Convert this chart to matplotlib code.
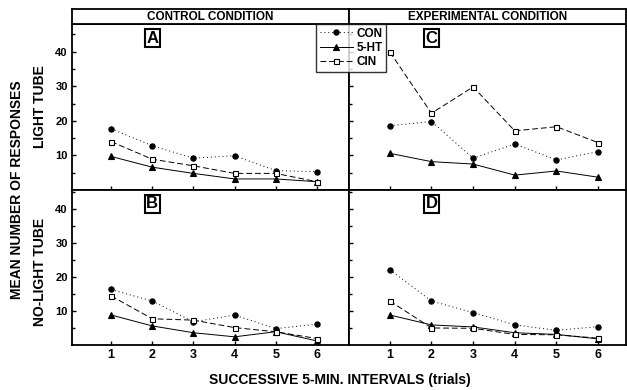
import matplotlib
matplotlib.use("Agg")
import matplotlib.pyplot as plt
from matplotlib.lines import Line2D

plt.rcParams["font.family"] = ["Liberation Sans", "DejaVu Sans"]
plt.rcParams["font.weight"] = "bold"

trials = [1, 2, 3, 4, 5, 6]
series = ["CON", "5-HT", "CIN"]

# panel A: control, light tube
a_con = [17.7, 12.8, 9.2, 9.9, 5.6, 5.3]
a_5ht = [9.7, 6.6, 4.8, 3.2, 3.2, 2.4]
a_cin = [14.0, 8.9, 7.0, 4.8, 4.8, 2.4]
# panel B: control, no-light tube
b_con = [16.3, 12.9, 6.8, 8.8, 4.8, 6.1]
b_5ht = [8.8, 5.6, 3.6, 2.4, 3.9, 1.2]
b_cin = [14.4, 7.7, 7.3, 5.1, 3.9, 1.9]
# panel C: experimental, light tube
c_con = [18.6, 19.8, 9.2, 13.3, 8.7, 11.1]
c_5ht = [10.6, 8.2, 7.5, 4.3, 5.5, 3.7]
c_cin = [39.9, 22.2, 29.8, 17.1, 18.3, 13.7]
# panel D: experimental, no-light tube
d_con = [22.1, 12.9, 9.5, 5.9, 4.3, 5.4]
d_5ht = [8.8, 5.9, 5.3, 3.6, 3.1, 1.8]
d_cin = [12.9, 5.0, 4.9, 3.1, 3.0, 2.0]

styles = {
    "CON": dict(ls=(0, (1, 3)), marker="o", mfc="black", ms=3.8),
    "5-HT": dict(ls="-", marker="^", mfc="black", ms=3.8),
    "CIN": dict(ls=(0, (6, 3)), marker="s", mfc="white", ms=3.6),
}

W, H = 627, 390
fig = plt.figure(figsize=(W / 100, H / 100), dpi=100)


def px(x0, y0, x1, y1):
    return [x0 / W, 1 - y1 / H, (x1 - x0) / W, (y1 - y0) / H]


def panel(rect, data, xlim, ylim, letter, left_labels, show_xlabels):
    ax = fig.add_axes(rect)
    for name, vals in zip(series, data):
        ax.plot(trials, vals, color="black", lw=0.7, mec="black", mew=0.8,
                **styles[name])
    ax.set_xlim(*xlim)
    ax.set_ylim(*ylim)
    ax.set_xticks(trials)
    ax.set_yticks([10, 20, 30, 40])
    ax.set_yticks([5, 15, 25, 35, 45], minor=True)
    ax.tick_params(direction="in", length=3, width=1, labelsize=8, pad=3)
    ax.tick_params(which="minor", direction="in", length=2, width=1)
    ax.tick_params(axis="x", labelbottom=show_xlabels, labelsize=9)
    ax.tick_params(axis="y", labelleft=left_labels)
    for s in ax.spines.values():
        s.set_linewidth(1.3)
    ax.text(2, 0.96, letter, transform=ax.get_xaxis_transform(), ha="center",
            va="top", fontsize=12,
            bbox=dict(boxstyle="square,pad=0.1", fc="white", ec="black", lw=1.5))
    return ax


xl_left = (0.05, 6.78)
xl_right = (0.02, 6.67)

panel(px(72, 24, 349, 190), [a_con, a_5ht, a_cin], xl_left, (0, 48), "A", True, False)
panel(px(72, 190, 349, 345), [b_con, b_5ht, b_cin], xl_left, (0, 45.5), "B", True, True)
panel(px(349, 24, 626, 190), [c_con, c_5ht, c_cin], xl_right, (0, 48), "C", False, False)
panel(px(349, 190, 626, 345), [d_con, d_5ht, d_cin], xl_right, (0, 45.5), "D", False, True)

for rect, title in [(px(72, 9, 349, 24), "CONTROL CONDITION"),
                    (px(349, 9, 626, 24), "EXPERIMENTAL CONDITION")]:
    hx = fig.add_axes(rect)
    hx.set_xticks([])
    hx.set_yticks([])
    for s in hx.spines.values():
        s.set_linewidth(1.3)
    hx.text(0.5, 0.45, title, ha="center", va="center", fontsize=8.5,
            transform=hx.transAxes)

handles = [Line2D([], [], color="black", lw=0.7, mec="black", mew=0.8, **styles[n])
           for n in series]
leg = fig.legend(handles, series, loc="upper left",
                 bbox_to_anchor=(316 / W, 1 - 24 / H), frameon=True,
                 fancybox=False, fontsize=8.5, handlelength=2.8,
                 handletextpad=0.3, borderpad=0.3, labelspacing=0.2,
                 borderaxespad=0)
leg.get_frame().set_edgecolor("black")
leg.get_frame().set_linewidth(1.0)
leg.set_zorder(10)

fig.text(17 / W, 1 - 190 / H, "MEAN NUMBER OF RESPONSES", rotation=90,
         ha="center", va="center", fontsize=10)
fig.text(40 / W, 1 - 107 / H, "LIGHT TUBE", rotation=90, ha="center",
         va="center", fontsize=10)
fig.text(40 / W, 1 - 272 / H, "NO-LIGHT TUBE", rotation=90, ha="center",
         va="center", fontsize=10)
fig.text(340 / W, 1 - 380 / H, "SUCCESSIVE 5-MIN. INTERVALS (trials)",
         ha="center", va="center", fontsize=10)

fig.savefig("out.png", dpi=100)
